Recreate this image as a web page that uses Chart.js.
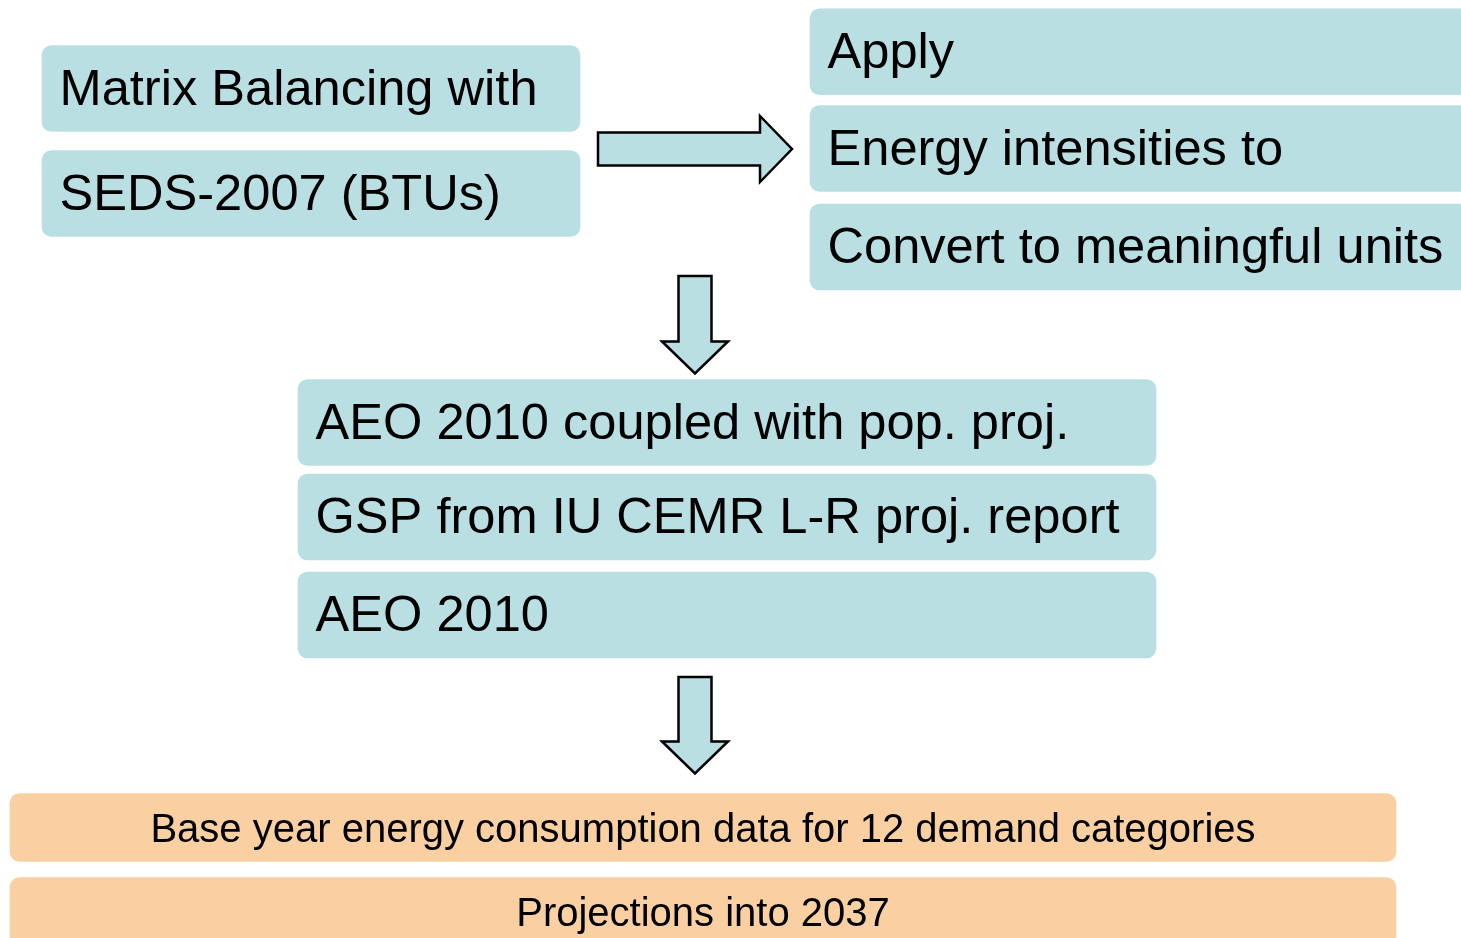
<!DOCTYPE html>
<html><head><meta charset="utf-8">
<script src="https://cdn.jsdelivr.net/npm/chart.js@4/dist/chart.umd.min.js"></script>
<style>html,body{margin:0;padding:0;background:#fff;overflow:hidden}#wrap{width:1461px;height:938px;position:relative}</style>
</head><body><div id="wrap"><canvas id="c"></canvas></div>
<script>
// Step boxes (teal)
const tealLabels = [
  'Matrix Balancing with',
  'SEDS-2007 (BTUs)',
  'Apply',
  'Energy intensities to',
  'Convert to meaningful units',
  'AEO 2010 coupled with pop. proj.',
  'GSP from IU CEMR L-R proj. report',
  'AEO 2010'
];
const tealStart = [42, 42, 810, 810, 810, 298, 298, 298];
const tealEnd   = [580, 580, 1480, 1480, 1480, 1156, 1156, 1156];
const tealRow   = [88.5, 193.5, 51.75, 148.5, 247, 422.5, 517, 615];

// Output boxes (orange)
const orangeLabels = [
  'Base year energy consumption data for 12 demand categories',
  'Projections into 2037'
];
const orangeStart = [10, 10];
const orangeEnd   = [1396, 1396];
const orangeRow   = [827.5, 911.5];

// Flow arrows: tail and tip
const arrowTail = [[598, 149], [695, 276], [695, 677]];
const arrowTip  = [[792, 149], [695, 373.5], [695, 773.5]];

const FONT = '"Liberation Sans", Arial, Helvetica, sans-serif';

const labelPlugin = {
  id: 'boxLabels',
  afterDatasetsDraw(chart) {
    const ctx = chart.ctx;
    ctx.save();
    chart.data.datasets.forEach((ds, i) => {
      const meta = chart.getDatasetMeta(i);
      meta.data.forEach((bar, j) => {
        const left = Math.min(bar.base, bar.x);
        const right = Math.max(bar.base, bar.x);
        ctx.fillStyle = '#000';
        ctx.textBaseline = 'alphabetic';
        ctx.font = ds.labelFont;
        if (ds.labelAlign === 'center') {
          ctx.textAlign = 'center';
          ctx.fillText(ds.labels[j], (left + right) / 2, bar.y + ds.labelShift);
        } else {
          ctx.textAlign = 'left';
          ctx.fillText(ds.labels[j], left + 17.5, bar.y + ds.labelShift);
        }
      });
    });
    ctx.restore();
  }
};

const arrowPlugin = {
  id: 'flowArrows',
  afterDatasetsDraw(chart) {
    const ctx = chart.ctx;
    const xs = chart.scales.x, ys = chart.scales.y;
    const shaft = 16.5, head = 33, headLen = 32;
    ctx.save();
    for (let k = 0; k < arrowTail.length; k++) {
      const x0 = xs.getPixelForValue(arrowTail[k][0]);
      const y0 = ys.getPixelForValue(arrowTail[k][1]);
      const x1 = xs.getPixelForValue(arrowTip[k][0]);
      const y1 = ys.getPixelForValue(arrowTip[k][1]);
      const len = Math.hypot(x1 - x0, y1 - y0);
      const ux = (x1 - x0) / len, uy = (y1 - y0) / len;
      const px = -uy, py = ux;
      const bx = x1 - ux * headLen, by = y1 - uy * headLen;
      ctx.beginPath();
      ctx.moveTo(x0 + px * shaft, y0 + py * shaft);
      ctx.lineTo(bx + px * shaft, by + py * shaft);
      ctx.lineTo(bx + px * head, by + py * head);
      ctx.lineTo(x1, y1);
      ctx.lineTo(bx - px * head, by - py * head);
      ctx.lineTo(bx - px * shaft, by - py * shaft);
      ctx.lineTo(x0 - px * shaft, y0 - py * shaft);
      ctx.closePath();
      ctx.fillStyle = '#B9DFE2';
      ctx.fill();
      ctx.lineWidth = 2.5;
      ctx.strokeStyle = '#000';
      ctx.lineJoin = 'miter';
      ctx.stroke();
    }
    ctx.restore();
  }
};

new Chart(document.getElementById('c'), {
  type: 'bar',
  data: {
    datasets: [
      {
        data: tealRow.map((r, i) => ({ y: r, x: [tealStart[i], tealEnd[i]] })),
        labels: tealLabels,
        labelFont: '50.6px ' + FONT,
        labelAlign: 'left',
        labelShift: 16,
        backgroundColor: '#B9DFE2',
        borderWidth: 0,
        borderSkipped: false,
        borderRadius: 10,
        barThickness: 86,
        grouped: false
      },
      {
        data: orangeRow.map((r, i) => ({ y: r, x: [orangeStart[i], orangeEnd[i]] })),
        labels: orangeLabels,
        labelFont: '40px ' + FONT,
        labelAlign: 'center',
        labelShift: 14,
        backgroundColor: '#FAD0A3',
        borderWidth: 0,
        borderSkipped: false,
        borderRadius: 10,
        barThickness: 68,
        grouped: false
      }
    ]
  },
  options: {
    indexAxis: 'y',
    responsive: true,
    maintainAspectRatio: false,
    animation: false,
    layout: { padding: 0 },
    scales: {
      x: { type: 'linear', min: 0, max: 1461, display: false, offset: false, grace: 0 },
      y: { type: 'linear', min: 0, max: 938, reverse: true, display: false, offset: false, grace: 0 }
    },
    plugins: { legend: { display: false }, tooltip: { enabled: false } }
  },
  plugins: [labelPlugin, arrowPlugin]
});
</script>
</body></html>
